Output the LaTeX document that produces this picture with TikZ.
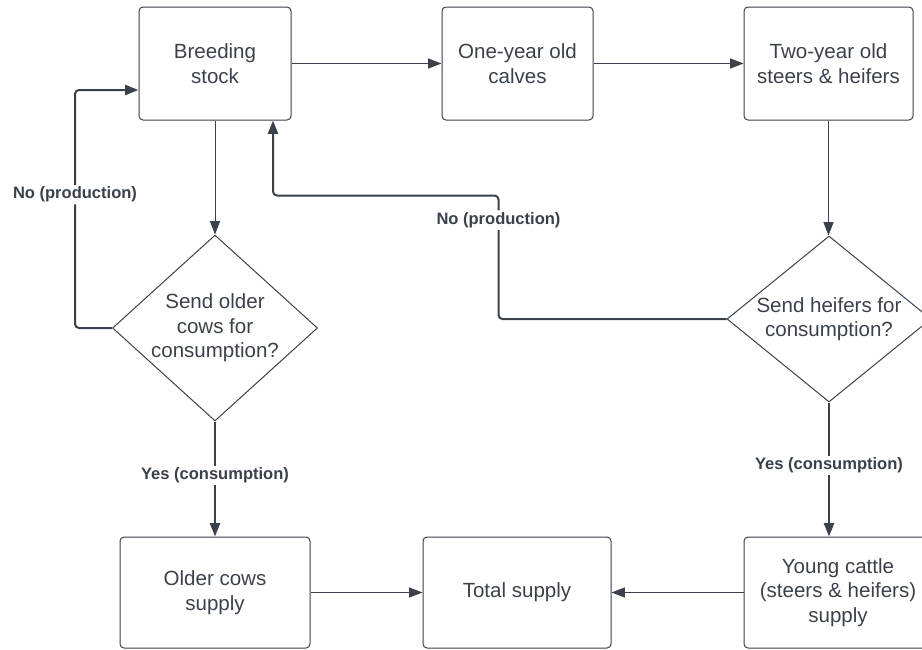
\documentclass[tikz,border=0pt]{standalone}
\usepackage{fontspec}
\setmainfont{Liberation Sans}
\usetikzlibrary{shapes.geometric,arrows.meta,calc}
\definecolor{ink}{HTML}{3A414A}

\begin{document}
\begin{tikzpicture}[x=0.75pt, y=-0.75pt, >={Triangle[length=10pt,width=7.5pt]},
    box/.style = {rectangle, draw=ink, rounded corners=3pt, line width=0.75pt, align=center, text=ink, inner sep=0, minimum height=84.75pt, font=\fontsize{15.4}{18.4}\selectfont},
    ask/.style = {diamond, draw=ink, line width=0.75pt, align=center, text=ink, inner sep=0, font=\fontsize{15.4}{18.4}\selectfont},
    tag/.style = {fill=white, text=ink, inner sep=1.5pt, font=\fontsize{12.4}{15}\selectfont\bfseries}]
    \useasboundingbox (0,0) rectangle (922,650);

    \node[box, minimum width=114pt]                                      (A) at (215,63.5)   {Breeding\\stock};
    \node[box, minimum width=113.25pt]                                   (B) at (517.5,63.5) {One-year old\\calves};
    \node[box, minimum width=126.75pt]                                   (C) at (828.5,63.5) {Two-year old\\steers \& heifers};
    \node[ask, aspect=1.1, minimum width=153.75pt, minimum height=139.5pt] (D) at (215,328)   {Send older\\cows for\\consumption?};
    \node[ask, aspect=1.23, minimum width=153pt, minimum height=124.5pt]   (E) at (829,319)   {Send heifers for\\consumption?};
    \node[box, minimum width=142.5pt, minimum height=83.25pt]              (F) at (215,592.5) {Older cows\\supply};
    \node[box, minimum width=141pt, minimum height=83.25pt]                (G) at (517,592.5) {Total supply};
    \node[box, minimum width=141pt, minimum height=83.25pt]                (H) at (838,592.5) {Young cattle\\(steers \& heifers)\\supply};

    \draw[->, line width=0.75pt, ink] (A.east)  -- (B.west);
    \draw[->, line width=0.75pt, ink] (B.east)  -- (C.west);
    \draw[->, line width=0.75pt, ink] (A.south) -- (D.north);
    \draw[->, line width=0.75pt, ink] (C.south) -- (C.south |- E.north);
    \draw[->, line width=0.75pt, ink] (F.east)  -- (G.west);
    \draw[->, line width=0.75pt, ink] (H.west)  -- (G.east);

    \draw[->, line width=1.5pt, ink] (D.south) -- node[tag, pos=0.47] {Yes (consumption)} (F.north);
    \draw[->, line width=1.5pt, ink] (E.south) -- node[tag, pos=0.47] {Yes (consumption)} (E.south |- H.north);

    \draw[->, line width=1.5pt, ink, rounded corners=3pt] (D.west) -- ++(-37,0) |- node[tag, pos=0.28] {No (production)} ($(A.west)+(0,26.5)$);
    \draw[->, line width=1.5pt, ink, rounded corners=3pt] (E.west) -- ++(-228,0) |- node[tag, pos=0.4] {No (production)} ($(A.south)+(58,75)$) -- ($(A.south)+(58,0)$);
\end{tikzpicture}
\end{document}
